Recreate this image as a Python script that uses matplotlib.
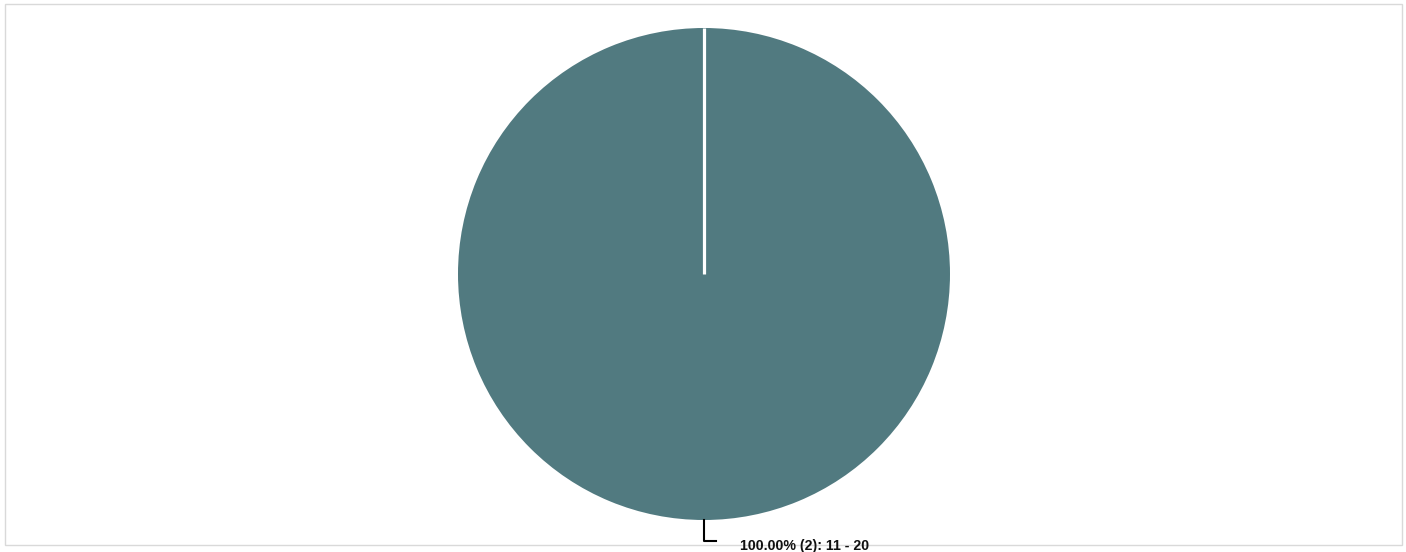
import matplotlib.pyplot as plt
from matplotlib.patches import Rectangle

# data
categories = ["11 - 20"]
counts = [2]

# colours
slice_colour = "#517a80"
border_colour = "#d9d9d9"

W, H = 1406, 552
fig = plt.figure(figsize=(W / 100, H / 100), dpi=100)
ax = fig.add_axes([0, 0, 1, 1])
ax.set_xlim(0, W)
ax.set_ylim(0, H)
ax.axis("off")

# outer frame
ax.add_patch(Rectangle((5, H - 545), 1397, 541, fill=False,
                       edgecolor=border_colour, linewidth=1))

cx, cy, r = 704, H - 274, 246
wedges, _ = ax.pie(counts, colors=[slice_colour], startangle=90,
                   counterclock=False, center=(cx, cy), radius=r,
                   wedgeprops=dict(linewidth=0))
# slice border at the start angle (single full slice)
ax.plot([cx, cx], [cy, cy + r], color="white", linewidth=2.3,
        solid_capstyle="butt")
ax.set_aspect("equal")
ax.set_xlim(0, W)
ax.set_ylim(0, H)

total = sum(counts)
for cat, n in zip(categories, counts):
    pct = 100 * n / total
    ax.plot([cx, cx, cx + 12], [cy - r, H - 541, H - 541],
            color="black", linewidth=1.5)
    ax.text(cx + 36, H - 546, f"{pct:.2f}% ({n}): {cat}",
            fontsize=10.2, fontweight="bold", family="Liberation Sans",
            ha="left", va="center", color="#111111")

fig.savefig("out.png", dpi=100)
